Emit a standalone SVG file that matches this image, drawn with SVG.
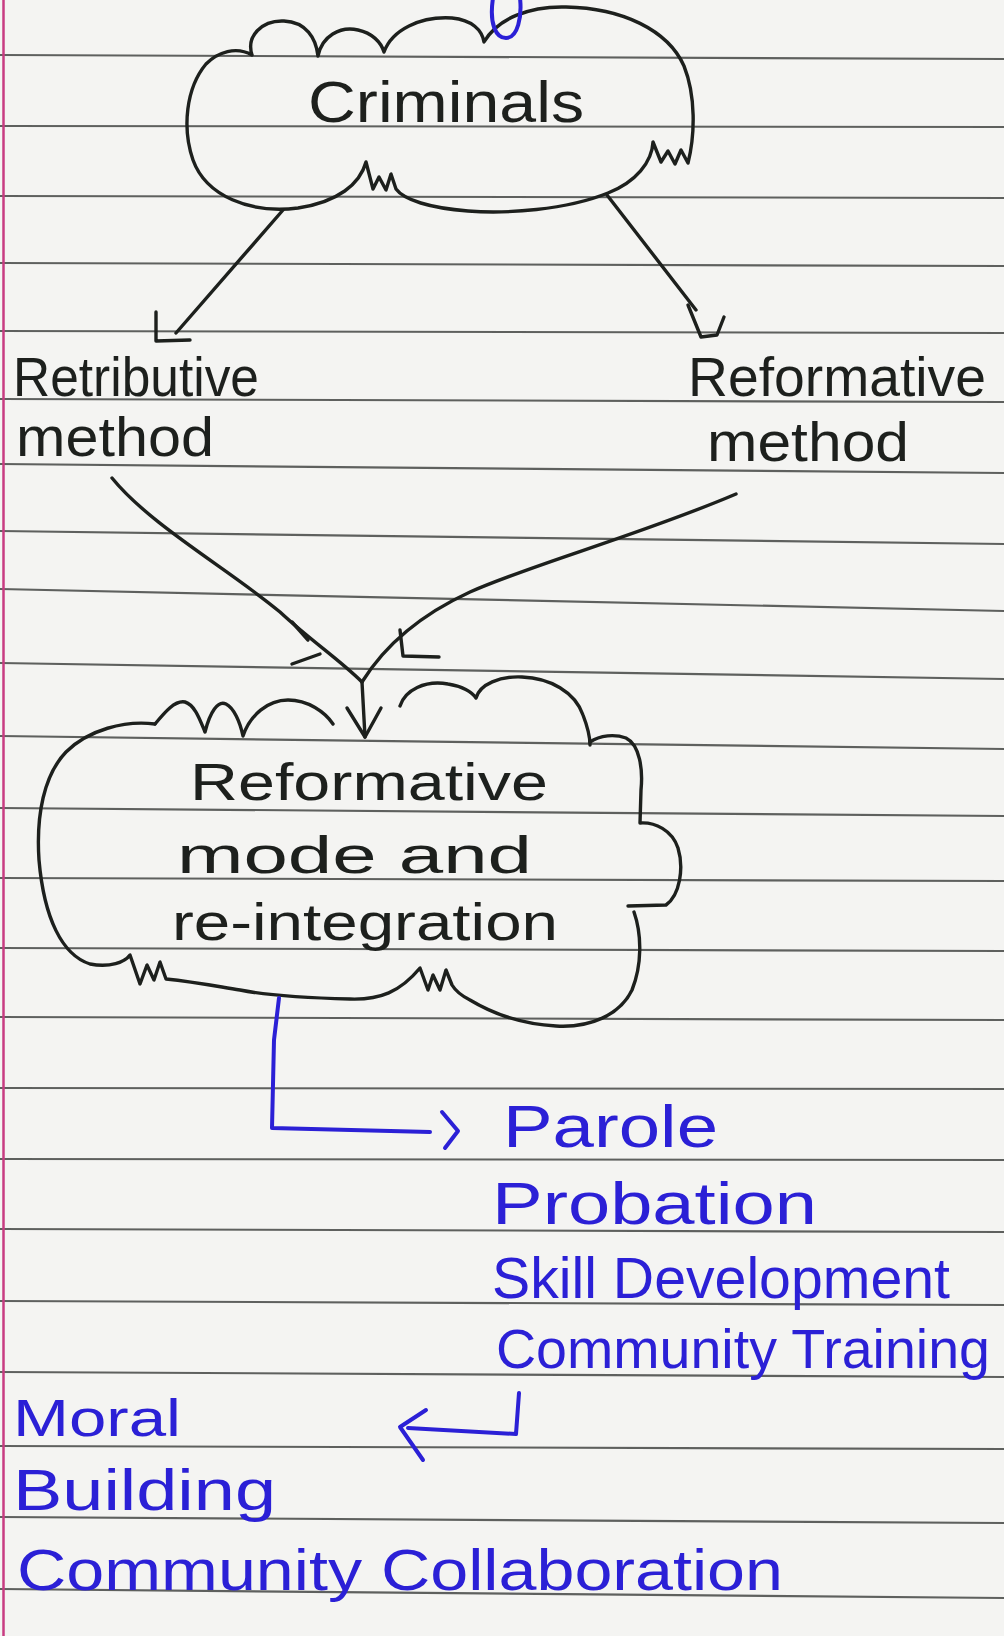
<svg xmlns="http://www.w3.org/2000/svg" width="1004" height="1636" viewBox="0 0 1004 1636">
<style>
.rule{fill:none;stroke:#5e605e;stroke-width:2.2}
.ink{fill:none;stroke:#1d201d;stroke-width:3.4;stroke-linecap:round;stroke-linejoin:round}
.blue{fill:none;stroke:#2b20d6;stroke-width:4;stroke-linecap:round;stroke-linejoin:round}
.tk{font-family:"Liberation Sans",Arial,sans-serif;fill:#1d201d}
.tb{font-family:"Liberation Sans",Arial,sans-serif;fill:#2b20d6}
</style>
<rect width="1004" height="1636" fill="#f4f4f2"/>
<g id="paper-rules">
<path class="rule" d="M0,55 L1004,59"/>
<path class="rule" d="M0,126 L1004,127"/>
<path class="rule" d="M0,196 L1004,198"/>
<path class="rule" d="M0,263 L1004,266"/>
<path class="rule" d="M0,331 L1004,333"/>
<path class="rule" d="M0,399 L1004,402"/>
<path class="rule" d="M0,464 L1004,473"/>
<path class="rule" d="M0,531 L1004,544"/>
<path class="rule" d="M0,589 L1004,611"/>
<path class="rule" d="M0,663 L1004,679"/>
<path class="rule" d="M0,736 L1004,749"/>
<path class="rule" d="M0,808 L1004,816"/>
<path class="rule" d="M0,878 L1004,881"/>
<path class="rule" d="M0,948 L1004,951"/>
<path class="rule" d="M0,1017 L1004,1020"/>
<path class="rule" d="M0,1088 L1004,1089"/>
<path class="rule" d="M0,1159 L1004,1160"/>
<path class="rule" d="M0,1229 L1004,1232"/>
<path class="rule" d="M0,1301 L1004,1305"/>
<path class="rule" d="M0,1372 L1004,1377"/>
<path class="rule" d="M0,1446 L1004,1449"/>
<path class="rule" d="M0,1517 L1004,1523"/>
<path class="rule" d="M0,1589 L1004,1598"/>
<path d="M3.5,0 L3.5,1636" stroke="#c83c82" stroke-width="2.5" fill="none"/>
</g>

<g id="criminals">
<path class="ink" d="M252,55 C246,36 262,20 284,21 C306,22 316,38 318,56 C322,36 340,26 358,30 C372,33 381,42 384,52 C392,30 420,16 452,18 C472,20 482,30 484,42 C498,18 530,6 566,7 C622,8 668,30 684,66 C696,96 695,135 688,163 L681,150 L675,164 L668,151 L661,162 L653,142 C652,162 636,182 608,193 C566,210 506,214 468,211 C430,208 404,200 396,189 L391,174 L386,190 L379,177 L373,189 L366,162 C360,184 338,202 298,208 C250,214 206,196 193,160 C182,128 186,88 206,64 C218,52 236,46 252,55"/>
<path class="blue" d="M493,-2 C489,24 496,38 506,38 C518,38 522,16 520,-2"/>
<text class="tk" x="308" y="122" font-size="58" textLength="276" lengthAdjust="spacingAndGlyphs">Criminals</text>
</g>

<g id="retributive">
<text class="tk" x="13" y="396" font-size="56" textLength="246" lengthAdjust="spacingAndGlyphs">Retributive</text>
<text class="tk" x="16" y="456" font-size="56" textLength="198" lengthAdjust="spacingAndGlyphs">method</text>
</g>

<g id="reformative">
<text class="tk" x="688" y="396" font-size="56" textLength="298" lengthAdjust="spacingAndGlyphs">Reformative</text>
<text class="tk" x="707" y="461" font-size="56" textLength="202" lengthAdjust="spacingAndGlyphs">method</text>
</g>

<g id="reformative-mode">
<path class="ink" d="M155,724 C165,712 175,700 185,702 C195,705 200,720 205,732 C210,712 218,700 226,704 C234,708 240,722 243,736 C250,715 268,700 288,700 C308,700 325,712 333,724"/>
<path class="ink" d="M400,706 C405,690 425,680 448,684 C462,686 472,692 476,698 C480,684 500,676 522,677 C550,678 575,692 583,715 C588,728 590,738 590,745"/>
<path class="ink" d="M590,742 C600,735 615,734 626,738 C640,745 643,770 641,790 L640,823 C655,822 672,830 678,848 C684,868 680,895 666,905 L628,906"/>
<path class="ink" d="M634,912 C642,935 642,965 632,990 C620,1015 590,1028 556,1026 C520,1024 490,1012 470,1000 C462,996 455,990 452,985 L446,970 L440,990 L433,975 L428,990 L420,968 C400,992 380,1000 350,999 C310,998 270,996 240,990 C215,986 195,982 166,979 L160,962 L154,980 L147,965 L140,984 L130,955 C125,962 110,968 90,964 C62,955 44,918 39,860 C36,815 44,775 66,752 C88,730 125,720 155,724"/>
<text class="tk" x="190" y="800" font-size="52" textLength="358" lengthAdjust="spacingAndGlyphs">Reformative</text>
<text class="tk" x="177" y="873" font-size="52" textLength="355" lengthAdjust="spacingAndGlyphs">mode and</text>
<text class="tk" x="172" y="940" font-size="52" textLength="386" lengthAdjust="spacingAndGlyphs">re-integration</text>
</g>

<g id="outcomes-1">
<text class="tb" x="503" y="1147" font-size="60" textLength="215" lengthAdjust="spacingAndGlyphs">Parole</text>
<text class="tb" x="492" y="1224" font-size="60" textLength="325" lengthAdjust="spacingAndGlyphs">Probation</text>
<text class="tb" x="492" y="1298" font-size="58" textLength="458" lengthAdjust="spacingAndGlyphs">Skill Development</text>
<text class="tb" x="496" y="1368" font-size="56" textLength="494" lengthAdjust="spacingAndGlyphs">Community Training</text>
</g>

<g id="outcomes-2">
<text class="tb" x="13" y="1436" font-size="52" textLength="168" lengthAdjust="spacingAndGlyphs">Moral</text>
<text class="tb" x="13" y="1510" font-size="58" textLength="263" lengthAdjust="spacingAndGlyphs">Building</text>
<text class="tb" x="17" y="1590" font-size="58" textLength="766" lengthAdjust="spacingAndGlyphs">Community Collaboration</text>
</g>

<g id="connectors">
<path class="ink" d="M283,210 L176,333"/>
<path class="ink" d="M156,312 L156,341 L190,340"/>
<path class="ink" d="M607,195 L696,310"/>
<path class="ink" d="M688,305 L701,337 L717,335 L724,317"/>
<path class="ink" d="M112,478 C150,525 230,570 280,612 C310,640 340,660 362,682"/>
<path class="ink" d="M292,622 L308,640" stroke-width="6"/>
<path class="ink" d="M292,664 L320,654"/>
<path class="ink" d="M736,494 C640,535 530,565 470,592 C420,615 385,645 362,682"/>
<path class="ink" d="M400,630 L403,656 L439,657"/>
<path class="ink" d="M362,682 L365,737"/>
<path class="ink" d="M347,708 L365,737 L381,708"/>
<path class="blue" d="M279,998 L274,1040 L272,1128 L430,1132"/>
<path class="blue" d="M442,1112 L458,1131 L445,1148"/>
<path class="blue" d="M519,1393 L516,1434 L408,1428"/>
<path class="blue" d="M426,1410 L400,1427 L423,1460"/>
</g>
</svg>
